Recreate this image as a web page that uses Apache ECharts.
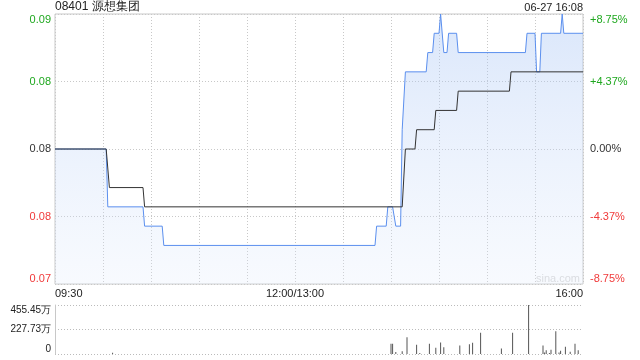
<!DOCTYPE html>
<html><head><meta charset="utf-8">
<script src="https://cdn.jsdelivr.net/npm/echarts@6/dist/echarts.min.js"></script>
<style>html,body{margin:0;padding:0;background:#fff}#c{width:640px;height:360px}</style>
</head><body><div id="c"></div>
<script>
const stockTitle = '08401 源想集团';
const stampText = '06-27 16:08';
const prevClose = 0.080;
const timeTickLabels = {0: '09:30', 150: '12:00/13:00', 330: '16:00'};
const priceTickLabels = ['0.07', '0.08', '0.08', '0.08', '0.09'];
const pctTickLabels = ['-8.75%', '-4.37%', '0.00%', '+4.37%', '+8.75%'];
const volTickLabels = ['0', '227.73万', '455.45万'];

// [minute since 09:30 (trading minutes), price]
const priceLine = [
  [0, 0.080], [32, 0.080], [33, 0.077], [55, 0.077], [56, 0.076], [67, 0.076], [68, 0.075],
  [200, 0.075], [201, 0.076], [207, 0.076], [208, 0.077], [211, 0.077], [213, 0.076],
  [216, 0.076], [217, 0.081], [218, 0.081], [219, 0.084], [232, 0.084], [233, 0.085],
  [236, 0.085], [237, 0.086], [240, 0.086], [241, 0.087], [243, 0.085], [245, 0.085],
  [246, 0.086], [251, 0.086], [252, 0.085], [294, 0.085], [295, 0.086], [300, 0.086],
  [301, 0.084], [303, 0.084], [304, 0.086], [316, 0.086], [317, 0.087], [318, 0.086],
  [330, 0.086]
];
const avgLine = [
  [0, 0.080], [32, 0.080], [34, 0.078], [55, 0.078], [56, 0.077], [217, 0.077], [219, 0.080],
  [225, 0.080], [226, 0.081], [237, 0.081], [238, 0.082], [251, 0.082], [252, 0.083],
  [284, 0.083], [285, 0.084], [330, 0.084]
];
const volTimes = [36, 210, 211, 213, 217, 220, 226, 228, 234, 238, 241, 243, 253, 259, 261, 266,
  279, 286, 296, 305, 306, 307, 309, 310, 313, 315, 316, 319, 322, 325, 327];
const volValues = [12, 96, 96, 19, 25, 155, 87, 10, 96, 59, 108, 62, 80, 90, 105, 198,
  50, 198, 455.45, 80, 15, 34, 10, 40, 211, 15, 30, 68, 20, 96, 34];

const FONT = 'Arial, "Liberation Sans", sans-serif';
const GREEN = '#1fa81f', RED = '#f03a3a', BLACK = '#333';
const signColor = (i, mid) => i > mid ? GREEN : (i < mid ? RED : BLACK);

const chart = echarts.init(document.getElementById('c'), null, {renderer: 'canvas'});
chart.setOption({
  animation: false,
  backgroundColor: '#fff',
  textStyle: {fontFamily: FONT},
  title: [
    {text: stockTitle, left: 55, top: 1, padding: 0,
     textStyle: {fontSize: 12, fontWeight: 'normal', color: '#222', fontFamily: FONT}},
    {text: stampText, right: 57, top: 2, padding: 0,
     textStyle: {fontSize: 11, fontWeight: 'normal', color: '#222', fontFamily: FONT}}
  ],
  graphic: [{type: 'text', right: 60, top: 273,
    style: {text: 'sina.com', fill: '#d8d8d8', font: '11px ' + FONT}}],
  grid: [
    {left: 55, top: 14, width: 528, height: 270, show: true, borderColor: '#c8c8c8', borderWidth: 1,
     backgroundColor: 'transparent'},
    {left: 55, top: 305, width: 528, height: 49}
  ],
  xAxis: [
    {type: 'value', gridIndex: 0, min: 0, max: 330, interval: 30,
     axisLine: {show: false}, axisTick: {show: false},
     splitLine: {show: true, lineStyle: {type: [1, 2], color: '#c8c8c8'}},
     axisLabel: {show: true, fontSize: 11, color: '#222', margin: 4, fontFamily: FONT,
       alignMinLabel: 'left', alignMaxLabel: 'right',
       formatter: v => timeTickLabels[Math.round(v)] || ''}},
    {type: 'value', gridIndex: 1, min: 0, max: 330, interval: 30,
     axisLine: {show: false}, axisTick: {show: false}, axisLabel: {show: false},
     splitLine: {show: false}}
  ],
  yAxis: [
    {type: 'value', gridIndex: 0, min: 0.073, max: 0.087, interval: 0.0035,
     axisLine: {show: false}, axisTick: {show: false},
     splitLine: {show: true, lineStyle: {type: [1, 2], color: '#c8c8c8'}},
     axisLabel: {fontSize: 11, margin: 4, fontFamily: FONT,
       verticalAlignMinLabel: 'bottom', verticalAlignMaxLabel: 'top',
       formatter: (v, i) => priceTickLabels[i],
       color: (v, i) => signColor(i, 2)}},
    {type: 'value', gridIndex: 0, position: 'right', min: -8.75, max: 8.75, interval: 4.375,
     axisLine: {show: false}, axisTick: {show: false}, splitLine: {show: false},
     axisLabel: {fontSize: 11, margin: 7, fontFamily: FONT,
       verticalAlignMinLabel: 'bottom', verticalAlignMaxLabel: 'top',
       formatter: (v, i) => pctTickLabels[i],
       color: (v, i) => signColor(i, 2)}},
    {type: 'value', gridIndex: 1, min: 0, max: 455.45, interval: 227.725,
     axisLine: {show: true, lineStyle: {color: '#c8c8c8'}}, axisTick: {show: false},
     splitLine: {show: true, lineStyle: {type: [1, 2], color: '#bbb'}},
     axisLabel: {fontSize: 10, margin: 4, color: '#222', fontFamily: FONT,
       verticalAlignMinLabel: 'bottom', verticalAlignMaxLabel: 'top',
       formatter: (v, i) => volTickLabels[i]}}
  ],
  series: [
    {type: 'line', xAxisIndex: 0, yAxisIndex: 0, data: priceLine, symbol: 'none',
     lineStyle: {color: '#5b8fee', width: 1},
     areaStyle: {origin: 'start', color: new echarts.graphic.LinearGradient(0, 0, 0, 1, [
       {offset: 0, color: 'rgba(160,192,244,0.55)'}, {offset: 1, color: 'rgba(225,235,252,0.35)'}])}},
    {type: 'line', xAxisIndex: 0, yAxisIndex: 0, data: avgLine, symbol: 'none',
     lineStyle: {color: '#333', width: 1}},
    {type: 'bar', xAxisIndex: 1, yAxisIndex: 2, barWidth: 1,
     data: volTimes.map((t, i) => [t, volValues[i]]), itemStyle: {color: '#555'}}
  ]
});
</script></body></html>
